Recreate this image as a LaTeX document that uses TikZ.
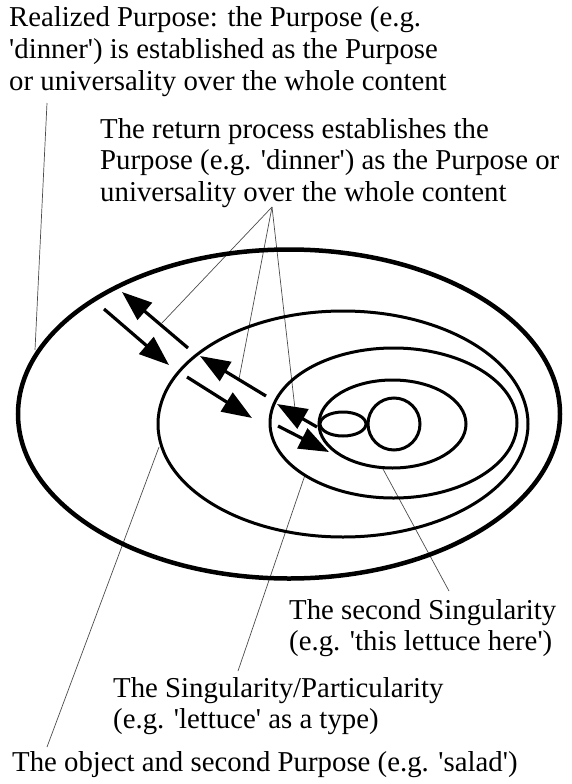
\documentclass[tikz,border=0pt]{standalone}
\usepackage{fontspec}
\setmainfont{Liberation Serif}
\usetikzlibrary{arrows.meta}
\newcommand\myq{\textquotesingle}
\begin{document}
\begin{tikzpicture}[x=1pt,y=-1pt,
  lbl/.style={inner sep=0pt, anchor=base west, font=\fontsize{28.8}{31.7}\selectfont},
  ring/.style={line width=3pt},
  outerring/.style={line width=4.5pt},
  flow/.style={line width=3.2pt, -{Triangle[length=30pt,width=22pt]}},
  leader/.style={line width=0.7pt, black!70}]
\useasboundingbox (0,0) rectangle (572,784);

% texts
\node[lbl] (realized) at (9,27) {\begin{tabular}[t]{@{}l@{}}Realized Purpose: the Purpose (e.g.\\ \myq dinner\myq) is established as the Purpose\\ or universality over the whole content\end{tabular}};
\node[lbl] (return) at (100,138) {\begin{tabular}[t]{@{}l@{}}The return process establishes the\\ Purpose (e.g. \myq dinner\myq) as the Purpose or\\ universality over the whole content\end{tabular}};
\node[lbl] (second) at (289,619) {\begin{tabular}[t]{@{}l@{}}The second Singularity\\ (e.g. \myq this lettuce here\myq)\end{tabular}};
\node[lbl] (partic) at (113,697) {\begin{tabular}[t]{@{}l@{}}The Singularity/Particularity\\ (e.g. \myq lettuce\myq\ as a type)\end{tabular}};
\node[lbl] (object) at (12,771) {The object and second Purpose (e.g. \myq salad\myq)};

% leader end points
\coordinate (r1) at (47,103);  \coordinate (r2) at (35,350);
\coordinate (hub) at (272,207);
\coordinate (h1) at (162,323); \coordinate (h2) at (239,379); \coordinate (h3) at (295,409);
\coordinate (s1) at (383,469); \coordinate (s2) at (449,591);
\coordinate (p1) at (305,475); \coordinate (p2) at (238,671);
\coordinate (o1) at (159,447); \coordinate (o2) at (47,747);

\draw[leader] (r1) -- (r2);
\draw[leader] (hub) -- (h1);
\draw[leader] (hub) -- (h2);
\draw[leader] (hub) -- (h3);
\draw[leader] (s1) -- (s2);
\draw[leader] (p1) -- (p2);
\draw[leader] (o1) -- (o2);

% ellipses
\draw[outerring] (289,414) ellipse [x radius=271pt, y radius=164.5pt];
\draw[ring] (343,424) ellipse [x radius=185pt, y radius=113pt];
\draw[ring] (393.5,423) ellipse [x radius=123.5pt, y radius=75pt];
\draw[ring] (392.5,424) ellipse [x radius=73.5pt, y radius=44pt];
\draw[ring] (343,424) ellipse [x radius=23pt, y radius=12pt];
\draw[ring] (394,424) circle [radius=26pt];

% arrows
\coordinate (a1s) at (188,348); \coordinate (a1e) at (122,292);
\coordinate (a2s) at (104,309); \coordinate (a2e) at (169,365);
\coordinate (a3s) at (266,396); \coordinate (a3e) at (200,356);
\coordinate (a4s) at (187,377); \coordinate (a4e) at (252,418);
\coordinate (a5s) at (317,427); \coordinate (a5e) at (277,404);
\coordinate (a6s) at (278,426); \coordinate (a6e) at (329,452);
\draw[flow] (a1s) -- (a1e);
\draw[flow] (a2s) -- (a2e);
\draw[flow] (a3s) -- (a3e);
\draw[flow] (a4s) -- (a4e);
\draw[flow] (a5s) -- (a5e);
\draw[flow] (a6s) -- (a6e);
\end{tikzpicture}
\end{document}
